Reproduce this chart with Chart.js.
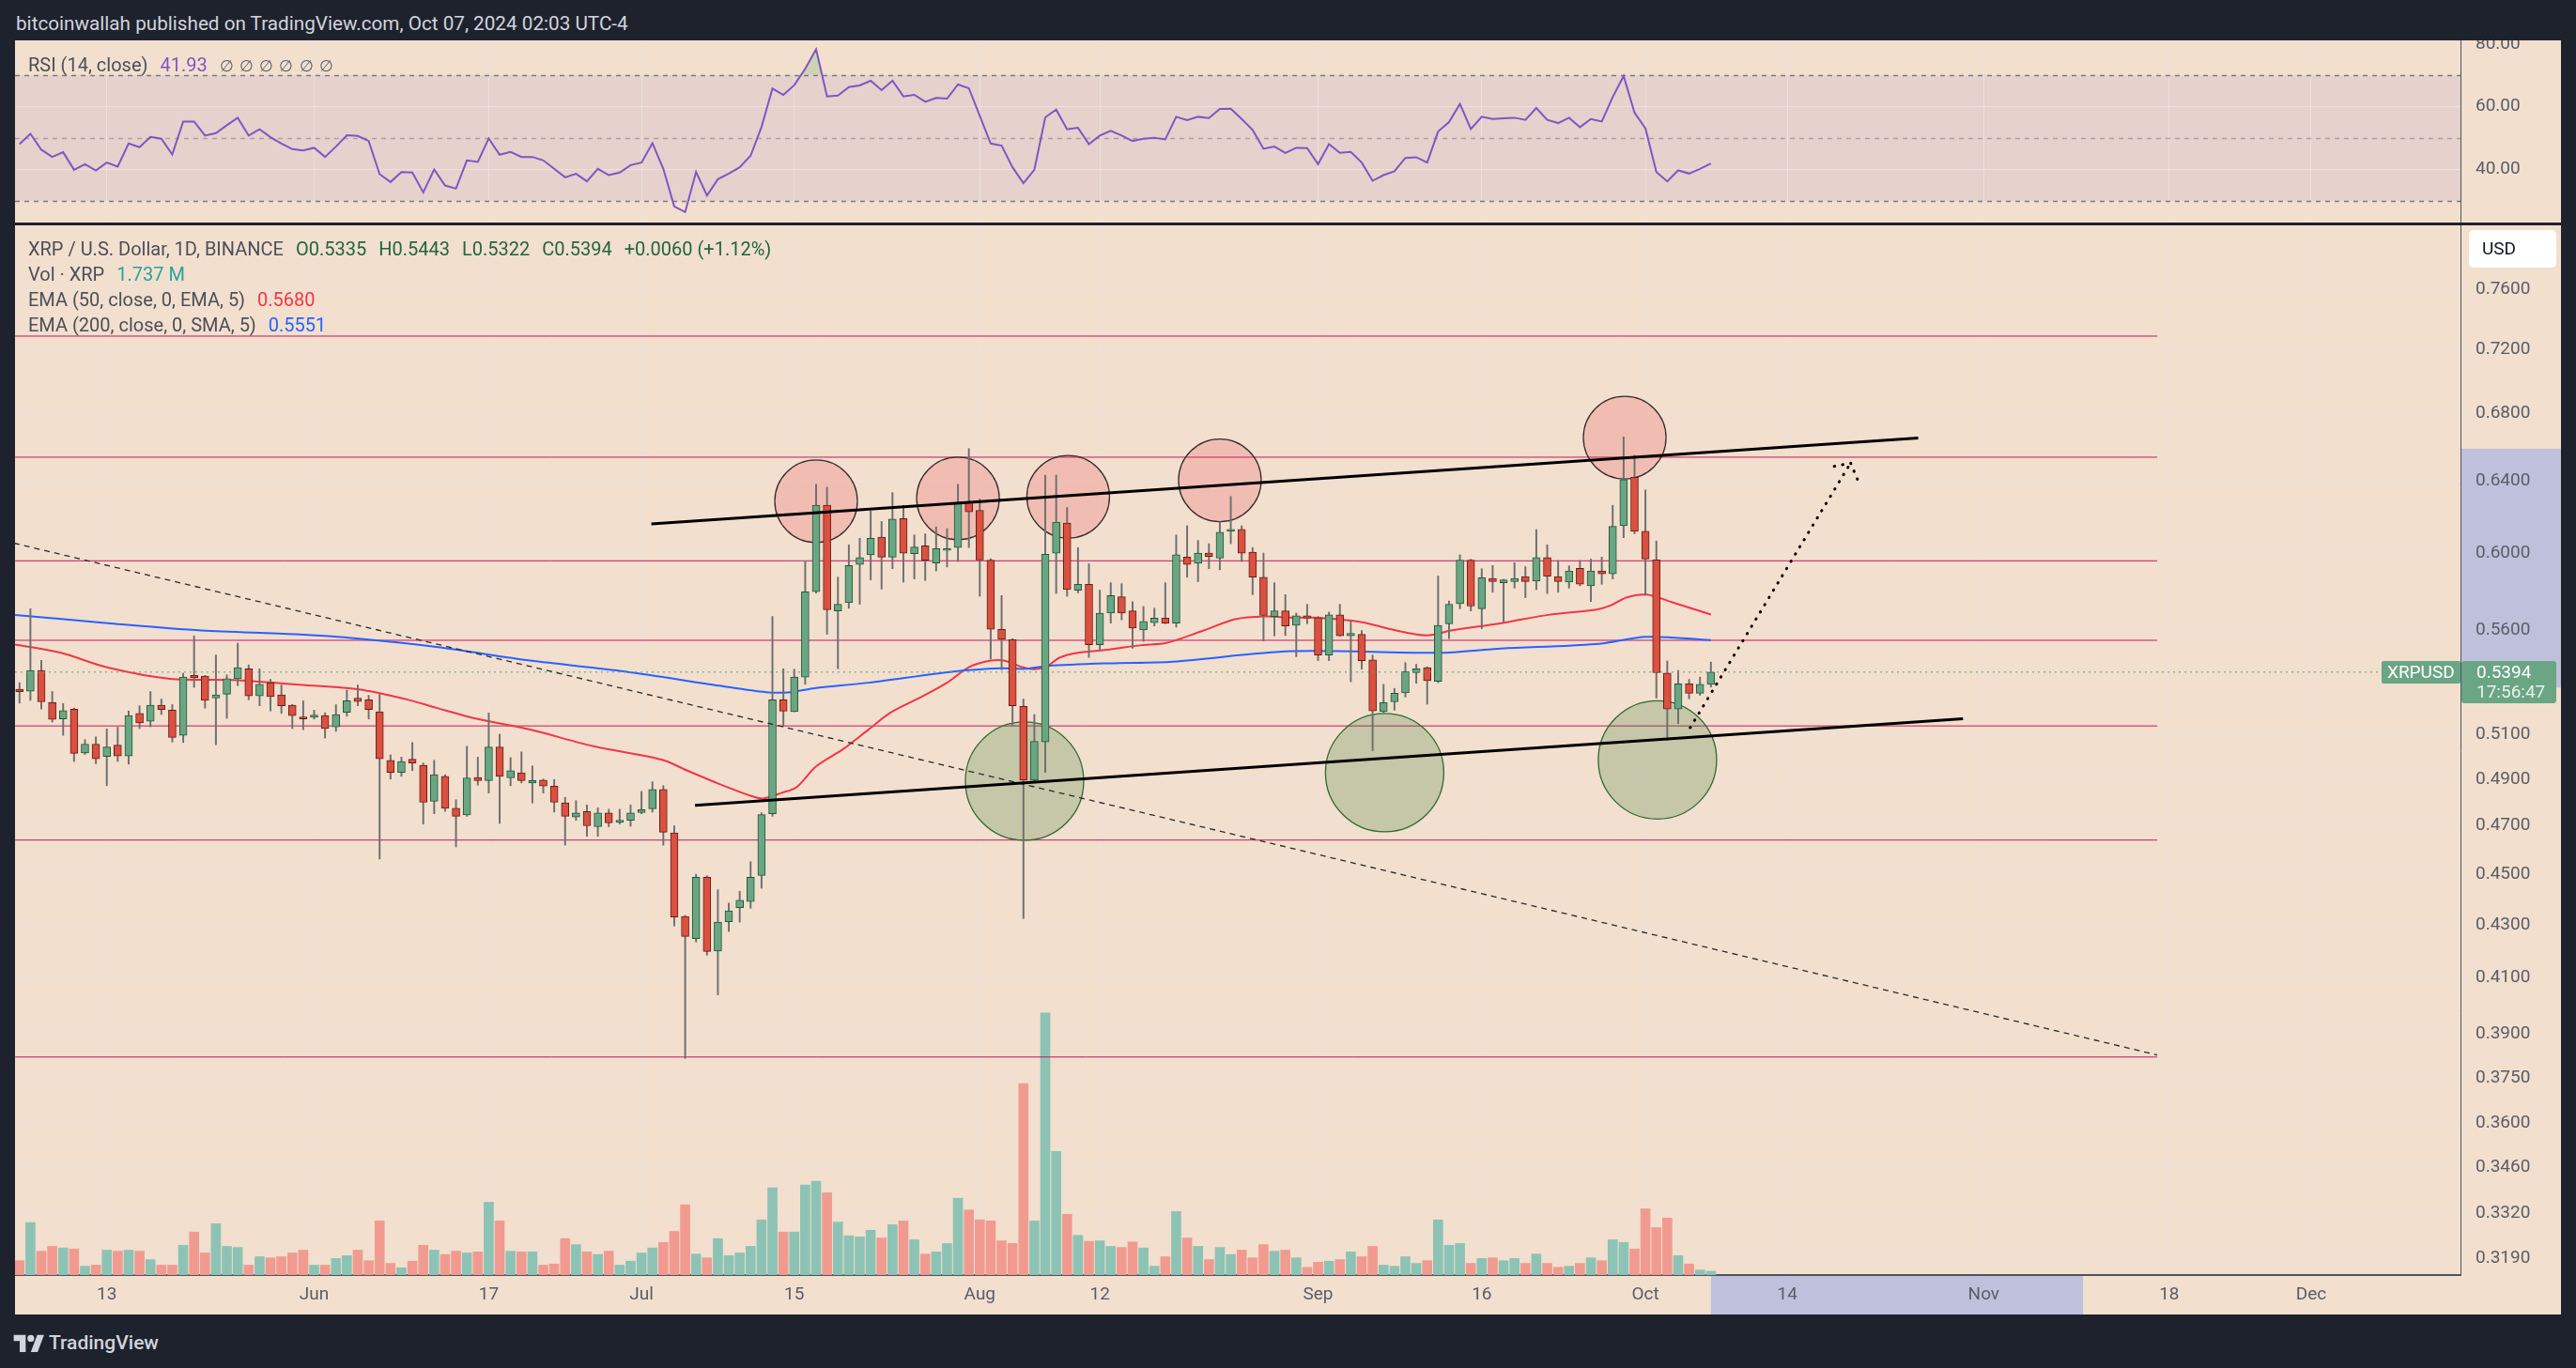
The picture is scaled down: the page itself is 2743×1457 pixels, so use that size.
<!DOCTYPE html>
<html>
<head>
<meta charset="utf-8">
<script src="https://cdn.jsdelivr.net/npm/chart.js@4.4.0/dist/chart.umd.min.js"></script>
<style>
  body { margin: 0; background: #1e222d; width: 2743px; height: 1457px; overflow: hidden; font-family: Roboto, "Noto Sans", sans-serif; }
  .abs { position: absolute; white-space: nowrap; }
  #header { left: 17px; top: 13px; font-size: 20.7px; line-height: 24px; color: #d1d4dc; }
  #rsiWrap { left: 16px; top: 43px; }
  #mainWrap { left: 16px; top: 240px; }
  .lg { left: 30px; font-size: 20px; line-height: 22px; color: #4c4f5a; }
  .lg span { margin-left: 13px; }
  .ohlc { color: #22663c; }
  .nul { font-size: 17px; word-spacing: 2px; }
  #footer { left: 14px; top: 1418px; font-size: 21px; line-height: 24px; color: #d1d4dc; font-weight: 500; display: flex; align-items: center; }
</style>
</head>
<body>
<div id="header" class="abs">bitcoinwallah published on TradingView.com, Oct 07, 2024 02:03 UTC-4</div>
<div id="rsiWrap" class="abs"><canvas id="rsiChart" width="2711" height="194"></canvas></div>
<div id="mainWrap" class="abs"><canvas id="mainChart" width="2711" height="1160"></canvas></div>

<div class="abs lg" style="top:58px">RSI (14, close)<span style="color:#7e57c2">41.93</span><span class="nul" style="color:#5d606b">∅ ∅ ∅ ∅ ∅ ∅</span></div>
<div class="abs lg" style="top:254px">XRP / U.S. Dollar, 1D, BINANCE<span class="ohlc">O0.5335</span><span class="ohlc">H0.5443</span><span class="ohlc">L0.5322</span><span class="ohlc">C0.5394</span><span class="ohlc">+0.0060 (+1.12%)</span></div>
<div class="abs lg" style="top:281px">Vol · XRP<span style="color:#26a69a">1.737 M</span></div>
<div class="abs lg" style="top:308px">EMA (50, close, 0, EMA, 5)<span style="color:#f23645">0.5680</span></div>
<div class="abs lg" style="top:335px">EMA (200, close, 0, SMA, 5)<span style="color:#2962ff">0.5551</span></div>

<div id="footer" class="abs">
  <svg width="34" height="20" viewBox="0 0 36 22"><path d="M14 22H7V9H0V2h14z" fill="#d1d4dc"/><circle cx="20" cy="6" r="4" fill="#d1d4dc"/><path d="M28 22h-8l7.5-20h8z" fill="#d1d4dc"/></svg>
  <span style="margin-left:4px">TradingView</span>
</div>

<script>
// ---------------- DATA ----------------
// candle 0 = May 5, day 0 on the x axis = May 13
const FIRST_DAY = -8;

const opens = [
  0.5312,0.5303,0.5402,0.5249,0.5172,0.5218,0.5017,0.5057,0.5001,0.5052,0.5003,0.5198,0.5162,0.5236,0.5213,0.5097,0.5378,0.5375,0.5270,0.5288,0.5362,0.5410,0.5280,0.5343,0.5285,0.5236,0.5182,
  0.5180,0.5188,0.5136,0.5203,0.5270,0.5262,0.5206,0.4984,0.4930,0.4989,0.4962,0.4804,0.4913,0.4774,0.4746,0.4908,0.4894,0.5044,0.4906,0.4928,0.4884,0.4896,0.4870,0.4797,0.4737,0.4760,0.4696,0.4754,0.4714,0.4723,
  0.4756,0.4772,0.4855,0.4670,0.4333,0.4248,0.4488,0.4201,0.4313,0.4367,0.4391,0.4495,0.4751,0.5262,0.5206,0.5370,0.5797,0.6264,0.5698,0.5740,0.5941,0.5992,0.6088,0.5980,0.6190,0.5998,0.6040,0.5948,0.6016,0.6031,0.6286,
  0.6236,0.5963,0.5605,0.5553,0.5231,0.4896,0.5067,0.6001,0.6165,0.5805,0.5836,0.5528,0.5687,0.5771,0.5698,0.5602,0.5639,0.5661,0.5636,0.5980,0.5947,0.6001,0.5974,0.6121,0.6130,0.6007,0.5873,0.5670,0.5698,0.5625,0.5673,
  0.5664,0.5477,0.5678,0.5572,0.5580,0.5453,0.5206,0.5252,0.5295,0.5391,0.5416,0.5350,0.5633,0.5735,0.5963,0.5709,0.5867,0.5844,0.5850,0.5876,0.5853,0.5977,0.5876,0.5847,0.5920,0.5828,0.5906,0.5891,0.6150,0.6423,
  0.6120,0.5965,0.5389,0.5218,0.5338,0.5293,0.5335
];
const highs = [
  0.5343,0.5709,0.5451,0.5301,0.5244,0.5223,0.5077,0.5090,0.5126,0.5134,0.5209,0.5234,0.5301,0.5265,0.5239,0.5389,0.5572,0.5378,0.5477,0.5381,0.5536,0.5429,0.5410,0.5359,0.5332,0.5240,0.5257,
  0.5213,0.5201,0.5239,0.5308,0.5332,0.5283,0.5288,0.5008,0.4998,0.5064,0.4972,0.4984,0.4920,0.4811,0.5047,0.4998,0.5200,0.5102,0.4996,0.5022,0.4959,0.4901,0.4899,0.4821,0.4807,0.4788,0.4776,0.4770,0.4770,0.4788,
  0.4847,0.4889,0.4872,0.4700,0.4337,0.4500,0.4494,0.4438,0.4385,0.4432,0.4551,0.4755,0.5670,0.5410,0.5408,0.5956,0.6383,0.6367,0.5873,0.6046,0.6082,0.6233,0.6174,0.6336,0.6264,0.6100,0.6106,0.6144,0.6135,0.6383,0.6591,
  0.6299,0.5971,0.5777,0.5558,0.5265,0.5193,0.6436,0.6436,0.6252,0.6031,0.5944,0.5805,0.5844,0.5839,0.5746,0.5721,0.5712,0.5844,0.6100,0.6150,0.6070,0.6052,0.6171,0.6314,0.6150,0.6031,0.6001,0.5844,0.5782,0.5687,0.5732,
  0.5670,0.5692,0.5732,0.5647,0.5599,0.5477,0.5335,0.5316,0.5440,0.5432,0.5420,0.5879,0.5749,0.5992,0.5968,0.5918,0.5935,0.5862,0.5950,0.5929,0.6129,0.6046,0.5962,0.5933,0.5962,0.5968,0.5980,0.6264,0.6660,0.6551,
  0.6351,0.6067,0.5448,0.5402,0.5359,0.5370,0.5443
];
const lows = [
  0.5246,0.5259,0.5218,0.5158,0.5097,0.4979,0.5010,0.4969,0.4872,0.4979,0.4967,0.5128,0.5136,0.5193,0.5066,0.5064,0.5321,0.5223,0.5054,0.5175,0.5329,0.5262,0.5234,0.5210,0.5198,0.5128,0.5123,
  0.5172,0.5084,0.5115,0.5185,0.5234,0.5172,0.4562,0.4901,0.4913,0.4938,0.4707,0.4751,0.4761,0.4612,0.4740,0.4874,0.4840,0.4710,0.4872,0.4884,0.4797,0.4840,0.4758,0.4619,0.4723,0.4656,0.4656,0.4696,0.4707,0.4698,
  0.4751,0.4758,0.4619,0.4296,0.3815,0.4235,0.4185,0.4039,0.4275,0.4311,0.4365,0.4444,0.4740,0.5138,0.5206,0.5335,0.5790,0.5580,0.5410,0.5712,0.5732,0.5859,0.5811,0.5918,0.5847,0.5864,0.5856,0.5906,0.5927,0.5956,0.6031,
  0.5774,0.5458,0.5405,0.5141,0.4325,0.4890,0.4930,0.5788,0.5774,0.5791,0.5466,0.5500,0.5636,0.5653,0.5511,0.5545,0.5622,0.5633,0.5616,0.5873,0.5850,0.5918,0.5912,0.6052,0.5956,0.5782,0.5547,0.5572,0.5574,0.5469,0.5633,
  0.5450,0.5450,0.5570,0.5348,0.5408,0.5027,0.5200,0.5213,0.5275,0.5340,0.5241,0.5343,0.5558,0.5709,0.5698,0.5608,0.5794,0.5636,0.5816,0.5766,0.5808,0.5788,0.5794,0.5816,0.5828,0.5746,0.5836,0.5864,0.6085,0.6106,
  0.5779,0.5270,0.5074,0.5151,0.5267,0.5283,0.5322
];
const closes = [
  0.5300,0.5402,0.5252,0.5170,0.5211,0.5015,0.5057,0.4991,0.5044,0.5003,0.5188,0.5154,0.5236,0.5216,0.5087,0.5370,0.5367,0.5259,0.5285,0.5362,0.5416,0.5280,0.5335,0.5277,0.5234,0.5188,0.5172,
  0.5190,0.5128,0.5193,0.5257,0.5254,0.5216,0.4991,0.4930,0.4979,0.4972,0.4800,0.4920,0.4774,0.4740,0.4906,0.4894,0.5044,0.4913,0.4938,0.4894,0.4894,0.4870,0.4800,0.4740,0.4754,0.4700,0.4754,0.4712,0.4723,0.4754,
  0.4768,0.4855,0.4673,0.4331,0.4256,0.4488,0.4199,0.4311,0.4355,0.4396,0.4488,0.4747,0.5262,0.5208,0.5370,0.5797,0.6264,0.5704,0.5732,0.5935,0.5977,0.6082,0.5980,0.6187,0.6001,0.6034,0.5963,0.6025,0.6025,0.6280,0.6227,
  0.5965,0.5605,0.5555,0.5234,0.4896,0.5069,0.5995,0.6171,0.5808,0.5836,0.5528,0.5687,0.5777,0.5687,0.5611,0.5645,0.5661,0.5636,0.5992,0.5941,0.6001,0.5983,0.6115,0.6130,0.6001,0.5873,0.5675,0.5698,0.5622,0.5673,0.5661,
  0.5477,0.5678,0.5572,0.5585,0.5450,0.5210,0.5249,0.5293,0.5397,0.5410,0.5353,0.5625,0.5732,0.5963,0.5723,0.5870,0.5850,0.5859,0.5867,0.5850,0.5977,0.5879,0.5850,0.5906,0.5836,0.5906,0.5891,0.6147,0.6410,0.6120,
  0.5970,0.5391,0.5218,0.5338,0.5293,0.5335,0.5394
];
// volume in millions of XRP
const volumes = [
  6.5,23.8,10.8,13,12.3,11.8,4,4.5,11.3,10.8,11.3,10.8,7,4.5,4.5,13.5,19.5,10,23.3,13,12.5,4.5,8.3,7.8,8.3,10,11.3,
  4.5,4.5,7.5,8.8,11.3,6.5,24.5,5.3,3.3,6.3,13.5,11.3,9.3,10.8,10,10.5,33,24.5,10.8,10.5,10.5,4.5,5,16.5,13.8,10.5,9.3,10.8,4.5,6.3,
  10,12.3,14.8,19.8,31.8,9.5,7.8,16.5,8.8,10,13,25,39.5,19.5,19.5,40.8,42.5,37.3,24,17.8,17.3,20.3,16.8,22.8,24.5,16,9.5,10.5,14.3,34.8,29.5,
  25,24.5,15.5,14.3,86.8,24.5,118.8,56,27.5,18,15.3,15.5,13,12.5,15,12.3,4,8.3,28.8,16.8,13,7,12.5,9.3,11.3,7.8,13.8,10.8,11.3,7.8,3.5,
  5.8,6.3,7,10.5,8.3,13,4.5,4,8.3,5.3,6.5,25,13.5,14.3,5.3,7.5,7.8,6.5,7.5,5.3,9.5,5.3,3.5,4,5.3,7.8,6.5,16,14.8,11.8,
  30,21.5,25.8,8.8,5,2.3,1.737
];
const rsiValues = [
  48.1,51.4,46.3,44.0,45.5,39.9,41.7,39.7,42.2,40.9,48.3,47.1,50.4,49.8,44.8,55.3,55.3,50.8,51.6,54.1,56.5,50.8,52.8,50.3,48.3,46.5,46.1,
  46.9,44.0,47.3,50.9,50.7,49.1,38.5,36.0,39.2,39.0,32.7,40.0,34.9,33.9,42.9,42.4,49.9,44.7,45.6,44.0,44.0,42.9,40.2,37.5,38.6,36.2,40.2,38.2,39.0,41.4,
  42.2,48.4,40.2,28.2,26.4,39.2,31.7,36.9,38.7,40.7,44.4,53.6,65.8,63.8,66.9,72.1,78.3,63.3,63.6,66.3,66.8,68.3,65.3,68.3,63.3,63.8,61.6,62.8,62.6,67.1,65.9,
  57.1,48.3,47.6,40.7,35.6,39.9,56.6,59.1,52.8,53.3,48.1,50.8,52.3,50.8,49.1,49.8,50.1,49.6,56.8,55.7,56.8,56.4,59.3,59.4,56.1,52.6,46.6,47.3,45.3,46.9,46.8,
  41.7,48.1,45.3,45.6,42.2,36.4,38.2,39.4,43.7,43.9,42.2,52.1,55.1,60.9,52.9,56.8,56.1,56.3,56.5,55.8,59.6,55.8,54.8,56.5,53.5,56.1,55.3,63.1,69.8,58.1,
  53.1,39.2,36.2,39.7,38.7,40.2,41.93
];

// moving averages at these days
const ema50Days = [-8.4,-4.2,0.1,5.8,11.6,17.3,23.1,27.4,30.2,34,38.8,44.6,50.9,53.2,56.1,59,60.1,61.8,63.2,65,67.5,69.8,71.8,74.7,77,79,81,82.2,83.9,85,86.2,87.3,89,91.9,94.8,97.1,100.5,103.4,106.2,108.5,110.6,114.9,117.7,120.9,123.2,127.8,132.1,136.4,137.8,139.3,141.1,143.6,147];
const ema50Vals = [0.5529,0.5488,0.5416,0.5362,0.5356,0.5335,0.5311,0.5265,0.5224,0.5172,0.5123,0.5047,0.4986,0.4938,0.4880,0.4828,0.4816,0.4840,0.4865,0.4957,0.5035,0.5123,0.5201,0.5277,0.5343,0.5418,0.5450,0.5450,0.5418,0.5408,0.5424,0.5464,0.5488,0.5505,0.5526,0.5537,0.5599,0.5656,0.5670,0.5664,0.5664,0.5642,0.5605,0.5575,0.5599,0.5636,0.5678,0.5704,0.5726,0.5768,0.5782,0.5740,0.5680];
const ema200Days = [-8.4,0.1,8.7,17.3,23.1,30.2,38.8,47.5,56.1,60.4,62.7,64.7,69.8,77.6,81.9,84.2,86.2,91.9,97.7,108.5,122,127.8,136.4,141.1,147];
const ema200Vals = [0.5678,0.5636,0.5599,0.5580,0.5558,0.5517,0.5450,0.5397,0.5329,0.5298,0.5298,0.5316,0.5343,0.5397,0.5413,0.5410,0.5424,0.5437,0.5445,0.5496,0.5488,0.5509,0.5531,0.5567,0.5551];

// axis ticks
const priceTicks = [0.76,0.72,0.68,0.64,0.60,0.56,0.51,0.49,0.47,0.45,0.43,0.41,0.39,0.375,0.36,0.346,0.332,0.319];
const rsiTicks = [40, 60, 80];
const rsiLevels = [70, 50, 30];
const dateTickDays = [0,19,35,49,63,80,91,111,126,141,154,172,189,202];
const dateTickLabels = ['13','Jun','17','Jul','15','Aug','12','Sep','16','Oct','14','Nov','18','Dec'];

// drawings on the chart
const levelPrices = [0.729,0.654,0.596,0.555,0.514,0.464,0.382];
const levelDays = [-8.4, 187.9];
const upperTrendDays = [49.9, 166.0];
const upperTrendPrices = [0.6161, 0.6654];
const lowerTrendDays = [53.9, 170.1];
const lowerTrendPrices = [0.4787, 0.5173];
const diagDays = [-8.5, 187.9];
const diagPrices = [0.6055, 0.3827];
const arrowDays = [145.1, 159.8];
const arrowPrices = [0.5132, 0.6506];
const arrowHeadDays = [158.3, 159.8, 160.5];
const arrowHeadPrices = [0.6487, 0.6506, 0.6401];
const topCircleDays = [65.0, 78.0, 88.1, 102.0, 139.1];
const topCirclePrices = [0.6287, 0.6303, 0.6312, 0.6406, 0.6656];
const bottomCircleDays = [84.1, 117.1, 142.1];
const bottomCirclePrices = [0.4892, 0.4929, 0.4986];
const axisMarkPrices = [0.659, 0.532];
const axisMarkDays = [147, 181.1];

// ---------------- STYLE ----------------
const PEACH = '#f2dfce';
const LAVENDER = '#bfc1dc';
const GRID = '#ebe2dd';
const TEXT = '#5a5d68';
const UP = '#6aa584', UP_EDGE = '#1f5a34';
const DOWN = '#d95140', DOWN_EDGE = '#6e1a12';
const VOL_UP = '#8dc3b5', VOL_DOWN = '#f19b90';
const X_MIN = -8.41, X_MAX = 215.69;

Chart.defaults.font.family = 'Roboto, "Noto Sans", sans-serif';
Chart.defaults.animation = false;

const days = opens.map((o, i) => FIRST_DAY + i);
const up = opens.map((o, i) => closes[i] >= o);
const pts = (xs, ys) => xs.map((x, i) => ({x: x, y: ys[i]}));
const lastClose = closes[closes.length - 1];

const xTicks = s => { s.ticks = dateTickDays.map(v => ({value: v})); };
const xLabel = v => dateTickLabels[dateTickDays.indexOf(v)] || '';

function roundRect(ctx, x, y, w, h, r) {
    ctx.beginPath();
    ctx.roundRect(x, y, w, h, r);
    ctx.fill();
}

// ---------------- MAIN PANE ----------------
const mainPlugin = {
    id: 'mainPane',
    beforeDraw(chart) {
        const {ctx, width, height, chartArea: a, scales} = chart;
        ctx.save();
        ctx.fillStyle = PEACH;
        ctx.fillRect(0, 0, width, height);
        ctx.fillStyle = LAVENDER;
        const y1 = scales.y.getPixelForValue(axisMarkPrices[0]);
        const y2 = scales.y.getPixelForValue(axisMarkPrices[1]);
        ctx.fillRect(a.right, y1, width - a.right, y2 - y1);
        const x1 = scales.x.getPixelForValue(axisMarkDays[0]);
        const x2 = scales.x.getPixelForValue(axisMarkDays[1]);
        ctx.fillRect(x1, a.bottom, x2 - x1, height - a.bottom);
        ctx.restore();
    },
    afterDraw(chart) {
        const {ctx, chartArea: a, scales} = chart;
        const py = Math.round(scales.y.getPixelForValue(lastClose));
        ctx.save();
        ctx.font = '19px Roboto, sans-serif';
        ctx.textBaseline = 'middle';
        // symbol tag
        ctx.fillStyle = UP;
        roundRect(ctx, a.right - 84, py - 12, 84, 24, 2);
        ctx.fillStyle = '#ffffff';
        ctx.fillText('XRPUSD', a.right - 78, py + 1);
        // price tag
        ctx.fillStyle = UP;
        roundRect(ctx, a.right + 1, py - 12, 101, 45, 3);
        ctx.fillStyle = '#ffffff';
        ctx.fillText(lastClose.toFixed(4), a.right + 17, py + 1);
        ctx.fillStyle = 'rgba(255,255,255,0.85)';
        ctx.fillText('17:56:47', a.right + 17, py + 22);
        // currency button
        ctx.fillStyle = '#ffffff';
        roundRect(ctx, a.right + 9, 5, 93, 40, 5);
        ctx.fillStyle = '#131722';
        ctx.fillText('USD', a.right + 23, 26);
        ctx.restore();
    }
};

const lineDs = (data, color, width, order, dash) => ({
    type: 'line', data: data, borderColor: color, borderWidth: width,
    borderDash: dash || [], pointRadius: 0, tension: 0, order: order
});

const mainDatasets = [
    {
        type: 'bar', yAxisID: 'vol', order: 10, grouped: false, barThickness: 10,
        data: pts(days, volumes),
        backgroundColor: up.map(u => u ? VOL_UP : VOL_DOWN)
    },
    ...levelPrices.map(p => lineDs(pts(levelDays, [p, p]), '#c2185b', 1, 9)),
    {
        type: 'bubble', order: 8, radius: 44,
        data: pts(topCircleDays, topCirclePrices),
        backgroundColor: 'rgba(242,54,69,0.2)', borderColor: '#3a2e2e', borderWidth: 1.3
    },
    {
        type: 'bubble', order: 8, radius: 63,
        data: pts(bottomCircleDays, bottomCirclePrices),
        backgroundColor: 'rgba(60,120,50,0.24)', borderColor: '#2e6b30', borderWidth: 1.3
    },
    Object.assign(lineDs(pts(ema200Days, ema200Vals), '#2962ff', 2, 7), {tension: 0.3}),
    Object.assign(lineDs(pts(ema50Days, ema50Vals), '#f23645', 2, 7), {tension: 0.3}),
    {
        type: 'bar', order: 5, grouped: false, barThickness: 1.3,
        data: days.map((d, i) => ({x: d, y: [lows[i], highs[i]]})),
        backgroundColor: '#6f6f6f'
    },
    {
        type: 'bar', order: 4, grouped: false, barThickness: 8,
        data: days.map((d, i) => ({x: d, y: [opens[i], closes[i]]})),
        backgroundColor: up.map(u => u ? UP : DOWN),
        borderColor: up.map(u => u ? UP_EDGE : DOWN_EDGE),
        borderWidth: 1, borderSkipped: false
    },
    lineDs(pts([X_MIN, X_MAX], [lastClose, lastClose]), '#5a9e74', 1, 3, [2, 4]),
    lineDs(pts(diagDays, diagPrices), '#2b2b2b', 1.3, 2, [6, 5]),
    lineDs(pts(upperTrendDays, upperTrendPrices), '#000000', 3, 1),
    lineDs(pts(lowerTrendDays, lowerTrendPrices), '#000000', 3, 1),
    Object.assign(lineDs(pts(arrowDays, arrowPrices), '#000000', 3, 1, [0.5, 8.5]), {borderCapStyle: 'round'}),
    Object.assign(lineDs(pts(arrowHeadDays, arrowHeadPrices), '#000000', 3, 1, [0.5, 8.5]), {borderCapStyle: 'round'})
];

var MainChart = new Chart('mainChart', {
    type: 'bar',
    data: {datasets: mainDatasets},
    options: {
        responsive: false,
        devicePixelRatio: 1,
        events: [],
        layout: {padding: 0, autoPadding: false},
        plugins: {legend: {display: false}, tooltip: {enabled: false}},
        scales: {
            x: {
                type: 'linear', min: X_MIN, max: X_MAX, bounds: 'data', offset: false,
                grid: {color: GRID, offset: false, drawTicks: false},
                border: {color: '#50535e', width: 2},
                ticks: {autoSkip: false, maxRotation: 0, padding: 10, color: TEXT, font: {size: 19}, callback: xLabel},
                afterBuildTicks: xTicks,
                afterFit: s => { s.height = 42; s.paddingLeft = 0; s.paddingRight = 0; }
            },
            y: {
                type: 'logarithmic', position: 'right', min: 0.31418, max: 0.8051, bounds: 'data',
                grid: {color: GRID, drawTicks: false},
                border: {color: '#50535e', width: 1},
                ticks: {autoSkip: false, padding: 16, color: TEXT, font: {size: 19}, callback: v => Number(v).toFixed(4)},
                afterBuildTicks: s => { s.ticks = priceTicks.map(v => ({value: v})); },
                afterFit: s => { s.width = 107; s.paddingTop = 0; s.paddingBottom = 0; }
            },
            vol: {
                type: 'linear', display: false, min: 0, max: 475.6
            }
        }
    },
    plugins: [mainPlugin]
});

// ---------------- RSI PANE ----------------
const rsiPlugin = {
    id: 'rsiPane',
    beforeDraw(chart) {
        const {ctx, width, height, chartArea: a, scales} = chart;
        ctx.save();
        ctx.fillStyle = PEACH;
        ctx.fillRect(0, 0, width, height);
        const yTop = scales.y.getPixelForValue(rsiLevels[0]);
        const yBot = scales.y.getPixelForValue(rsiLevels[2]);
        ctx.fillStyle = 'rgba(126,87,194,0.1)';
        ctx.fillRect(a.left, yTop, a.right - a.left, yBot - yTop);
        ctx.restore();
    },
    beforeDatasetsDraw(chart) {
        const {ctx, chartArea: a, scales} = chart;
        ctx.save();
        ctx.lineWidth = 1.5;
        ctx.setLineDash([5, 5]);
        rsiLevels.forEach((lvl, i) => {
            const y = Math.round(scales.y.getPixelForValue(lvl)) + 0.5;
            ctx.strokeStyle = i === 1 ? 'rgba(120,123,134,0.55)' : '#787b86';
            ctx.beginPath();
            ctx.moveTo(a.left, y);
            ctx.lineTo(a.right, y);
            ctx.stroke();
        });
        ctx.restore();
    }
};

var RsiChart = new Chart('rsiChart', {
    type: 'line',
    data: {
        datasets: [{
            data: pts(days, rsiValues),
            borderColor: '#7e57c2', borderWidth: 2, pointRadius: 0, tension: 0,
            fill: {target: {value: 70}, above: 'rgba(76,175,80,0.22)', below: 'rgba(0,0,0,0)'}
        }]
    },
    options: {
        responsive: false,
        devicePixelRatio: 1,
        events: [],
        layout: {padding: 0, autoPadding: false},
        plugins: {legend: {display: false}, tooltip: {enabled: false}},
        scales: {
            x: {
                type: 'linear', min: X_MIN, max: X_MAX, bounds: 'data',
                grid: {color: GRID, drawTicks: false},
                border: {display: false},
                ticks: {display: false},
                afterBuildTicks: xTicks,
                afterFit: s => { s.height = 0; s.paddingLeft = 0; s.paddingRight = 0; }
            },
            y: {
                position: 'right', min: 23.08, max: 81.17, bounds: 'data',
                grid: {color: GRID, drawTicks: false},
                border: {color: '#50535e', width: 1},
                ticks: {autoSkip: false, padding: 16, color: TEXT, font: {size: 19}, callback: v => Number(v).toFixed(2)},
                afterBuildTicks: s => { s.ticks = rsiTicks.map(v => ({value: v})); },
                afterFit: s => { s.width = 107; s.paddingTop = 0; s.paddingBottom = 0; }
            }
        }
    },
    plugins: [rsiPlugin]
});
</script>
</body>
</html>
